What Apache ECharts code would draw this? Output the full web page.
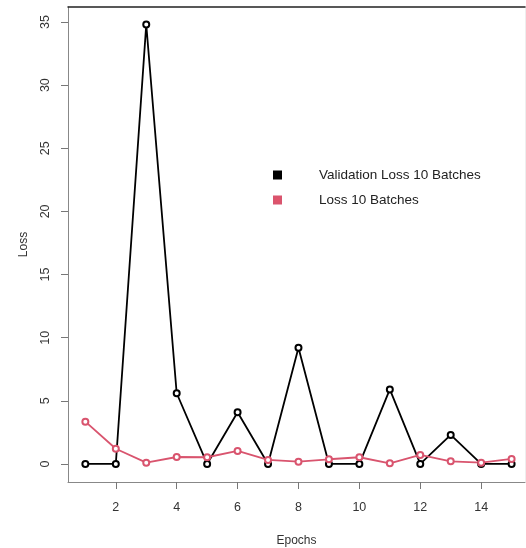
<!DOCTYPE html>
<html>
<head>
<meta charset="utf-8">
<script src="https://cdn.jsdelivr.net/npm/echarts@6/dist/echarts.min.js"></script>
<style>html,body{margin:0;padding:0;background:#fff}#c{width:526px;height:548px}</style>
</head>
<body>
<div id="c"></div>
<script>
const epochs = [1,2,3,4,5,6,7,8,9,10,11,12,13,14,15];
const validationLoss = [0,0,34.8,5.6,0,4.1,0,9.2,0,0,5.9,0,2.3,0,0];
const trainLoss = [3.35,1.2,0.1,0.55,0.53,1.03,0.32,0.18,0.37,0.53,0.05,0.71,0.21,0.1,0.4];
const xTicks = [2,4,6,8,10,12,14];
const yTicks = [0,5,10,15,20,25,30,35];
const seriesNames = ['Validation Loss 10 Batches','Loss 10 Batches'];

const font = '"Liberation Sans", Arial, sans-serif';
const chart = echarts.init(document.getElementById('c'));
const pair = arr => arr.map((v,i)=>[epochs[i], v]);
chart.setOption({
  animation:false,
  backgroundColor:'#fff',
  grid:{left:68, top:7, right:1, bottom:66, containLabel:false, outerBoundsMode:'none'},
  legend:{
    orient:'vertical', left:268, top:162,
    itemWidth:7, itemHeight:7, itemGap:9,
    icon:'rect',
    data:[{name:seriesNames[0], itemStyle:{color:'#000'}},{name:seriesNames[1], itemStyle:{color:'#DF536B'}}],
    textStyle:{fontFamily:font, fontSize:13.5, color:'#222', lineHeight:16, padding:[0,0,0,33]}
  },
  xAxis:[{
    type:'value', min:0.43, max:15.44, position:'bottom',
    name:'Epochs', nameLocation:'middle', nameGap:53,
    nameTextStyle:{fontFamily:font, fontSize:12, color:'#333'},
    splitLine:{show:false},
    axisLine:{show:true, onZero:false, lineStyle:{color:'#888', width:1}},
    axisTick:{show:true, length:7, customValues:xTicks, lineStyle:{color:'#777'}},
    axisLabel:{show:true, customValues:xTicks, margin:19, fontFamily:font, fontSize:12.5, color:'#333'}
  },{
    type:'value', min:0.43, max:15.44, position:'top',
    splitLine:{show:false},
    axisLine:{show:true, onZero:false, lineStyle:{color:'#222', width:1.5}},
    axisTick:{show:false}, axisLabel:{show:false}
  }],
  yAxis:[{
    type:'value', min:-1.43, max:36.19, position:'left',
    name:'Loss', nameLocation:'middle', nameGap:38, nameRotate:90,
    nameTextStyle:{fontFamily:font, fontSize:12, color:'#333'},
    splitLine:{show:false},
    axisLine:{show:true, onZero:false, lineStyle:{color:'#888', width:1}},
    axisTick:{show:true, length:7, customValues:yTicks, lineStyle:{color:'#777'}},
    axisLabel:{show:true, customValues:yTicks, rotate:90, margin:16, fontFamily:font, fontSize:12.5, color:'#333'}
  },{
    type:'value', min:-1.43, max:36.19, position:'right',
    splitLine:{show:false},
    axisLine:{show:true, onZero:false, lineStyle:{color:'#eee', width:1}},
    axisTick:{show:false}, axisLabel:{show:false}
  }],
  series:[{
    name:seriesNames[0], type:'line', data:pair(validationLoss),
    symbol:'emptyCircle', symbolSize:6, showAllSymbol:true,
    lineStyle:{color:'#000', width:1.8},
    itemStyle:{color:'#000', borderColor:'#000', borderWidth:1.8}
  },{
    name:seriesNames[1], type:'line', data:pair(trainLoss),
    symbol:'emptyCircle', symbolSize:6, showAllSymbol:true,
    lineStyle:{color:'#D9546E', width:1.8},
    itemStyle:{color:'#D9546E', borderColor:'#D9546E', borderWidth:1.5}
  }]
});
</script>
</body>
</html>
